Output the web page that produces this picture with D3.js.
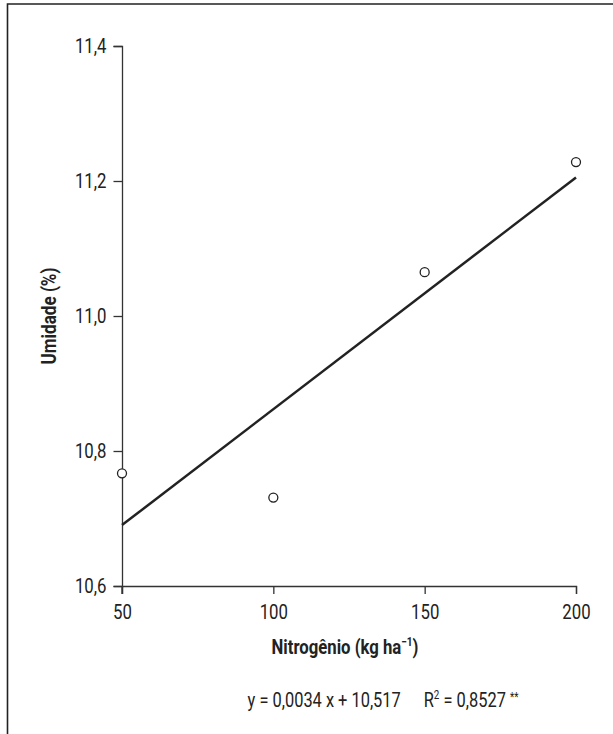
<!DOCTYPE html>
<html lang="pt">
<head>
<meta charset="UTF-8">
<title>Umidade x Nitrogênio</title>
<script src="https://cdn.jsdelivr.net/npm/d3@7"></script>
<style>
  body { margin: 0; background: #fff; }
  svg text { font-family: "Roboto", "Noto Sans", sans-serif; fill: #222; }
</style>
</head>
<body>
<svg width="613" height="734"></svg>
<script>
// dados
var doses = [50, 100, 150, 200];
var umidade = [10.767, 10.731, 11.065, 11.228];
var xTicks = [50, 100, 150, 200];
var yTicks = [10.6, 10.8, 11.0, 11.2, 11.4];
var eqText = "y = 0,0034 x + 10,517";
var r2Text = "0,8527";

var width = 613, height = 734;
var svg = d3.select("svg");
var squeeze = 0.84; // fonte condensada

// moldura (só topo e esquerda)
svg.append("path")
    .attr("d", "M 7.5 " + height + " L 7.5 4 L " + width + " 4")
    .attr("fill", "none")
    .attr("stroke", "#222")
    .attr("stroke-width", 1.6);

var x = d3.scaleLinear().domain([50, 200]).range([122, 576]);
var y = d3.scaleLinear().domain([10.6, 11.4]).range([586, 46]);

var fmt = function(d) { return d3.format(".1f")(d).replace(".", ","); };

var gx = svg.append("g")
    .attr("transform", "translate(0,586)")
    .call(d3.axisBottom(x).tickValues(xTicks).tickSize(8).tickPadding(11).tickFormat(d3.format("d")));

var gy = svg.append("g")
    .attr("transform", "translate(122,0)")
    .call(d3.axisLeft(y).tickValues(yTicks).tickSize(8.5).tickPadding(7).tickFormat(fmt));

[gx, gy].forEach(function(g) {
    g.select(".domain").attr("stroke", "#333").attr("stroke-width", 1.3);
    g.selectAll(".tick line").attr("stroke", "#333").attr("stroke-width", 1.3);
    g.selectAll(".tick text")
        .style("font-size", "20px")
        .attr("fill", "#222")
        .attr("transform", "scale(" + squeeze + ",1)");
});
gy.selectAll(".tick text").attr("x", -15.5 / squeeze);

// eixo y passa abaixo do eixo x
svg.append("line")
    .attr("x1", x(50)).attr("x2", x(50))
    .attr("y1", 586).attr("y2", 594)
    .attr("stroke", "#333").attr("stroke-width", 1.3);

// reta de regressão (mínimos quadrados)
var mx = d3.mean(doses), my = d3.mean(umidade);
var sxy = d3.sum(doses, function(d, i) { return (d - mx) * (umidade[i] - my); });
var sxx = d3.sum(doses, function(d) { return (d - mx) * (d - mx); });
var slope = sxy / sxx, icpt = my - slope * mx;

var fit = d3.line()
    .x(function(d) { return x(d); })
    .y(function(d) { return y(slope * d + icpt); });
svg.append("path")
    .datum(d3.extent(doses))
    .attr("d", fit)
    .attr("fill", "none")
    .attr("stroke", "#222")
    .attr("stroke-width", 2.5);

// pontos observados
svg.selectAll("circle.pt")
    .data(doses)
    .enter()
    .append("circle")
    .attr("class", "pt")
    .attr("cx", function(d) { return x(d); })
    .attr("cy", function(d, i) { return y(umidade[i]); })
    .attr("r", 4.5)
    .attr("fill", "#fff")
    .attr("stroke", "#222")
    .attr("stroke-width", 1.3);

// encaixa um texto numa largura
function fitWidth(t, w) {
    var len = t.node().getComputedTextLength();
    return w / len;
}

// títulos
var yt = svg.append("g");
var ytt = yt.append("text")
    .attr("text-anchor", "middle")
    .attr("dominant-baseline", "central")
    .style("font-size", "20px")
    .style("font-weight", "bold")
    .text("Umidade (%)");
yt.attr("transform", "translate(50,316) rotate(-90) scale(" + fitWidth(ytt, 97) + ",1)");

var xg = svg.append("g");
var xt = xg.append("text")
    .attr("text-anchor", "middle")
    .style("font-size", "20px")
    .style("font-weight", "bold");
xt.append("tspan").text("Nitrogênio (kg ha");
xt.append("tspan").attr("dy", -8).style("font-size", "12px").text("−1");
xt.append("tspan").attr("dy", 8).text(")");
xg.attr("transform", "translate(345,654) scale(" + fitWidth(xt, 147) + ",1)");

var eg = svg.append("g");
var eq = eg.append("text")
    .attr("text-anchor", "middle")
    .style("font-size", "20px");
eq.append("tspan").text(eqText);
eq.append("tspan").attr("dx", 28).text("R");
eq.append("tspan").attr("dy", -8).style("font-size", "12px").text("2");
eq.append("tspan").attr("dy", 8).text(" = " + r2Text + " ");
eq.append("tspan").attr("dy", -6).style("font-size", "12px").text("**");
eg.attr("transform", "translate(383,707) scale(" + fitWidth(eq, 248) + ",1)");
</script>
</body>
</html>
